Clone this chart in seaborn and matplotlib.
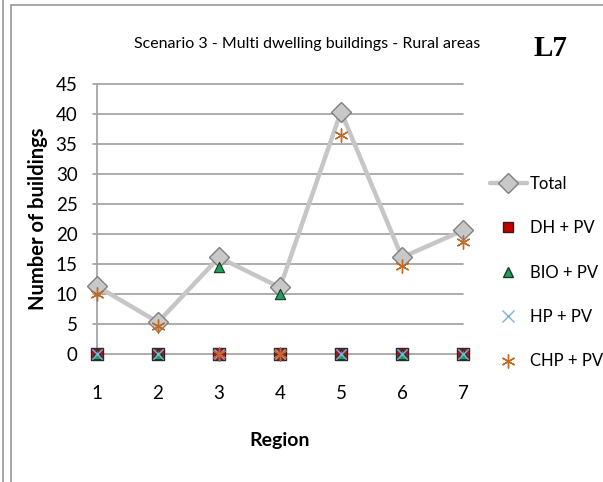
import matplotlib
matplotlib.use("Agg")
import matplotlib.pyplot as plt
from matplotlib.lines import Line2D
import seaborn as sns
import pandas as pd

regions = [1, 2, 3, 4, 5, 6, 7]
total = [11.3, 5.3, 16.1, 11.1, 40.4, 16.1, 20.6]
dh_pv = [0, 0, 0, 0, 0, 0, 0]
bio_pv = [0, 0, 14.5, 10.0, 0, 0, 0]
hp_pv = [0, 0, 0, 0, 0, 0, 0]
chp_pv = [10.0, 4.7, 0, 0, 36.5, 14.7, 18.7]
y_ticks = [0, 5, 10, 15, 20, 25, 30, 35, 40, 45]

sns.set_theme(style="white")
font = ["Lato", "DejaVu Sans"]
plt.rcParams["font.family"] = font
for k in ["text.color", "axes.labelcolor", "xtick.color", "ytick.color"]:
    plt.rcParams[k] = "black"

df = pd.DataFrame({"Region": regions, "Total": total, "DH + PV": dh_pv,
                   "BIO + PV": bio_pv, "HP + PV": hp_pv, "CHP + PV": chp_pv})

fig = plt.figure(figsize=(6.03, 4.82), dpi=100)
ax = fig.add_axes([97 / 603, 1 - 354 / 482, (463 - 97) / 603, (354 - 84) / 482])

# horizontal gridlines
for t in y_ticks:
    ax.axhline(t, color="#a6a6a6", lw=1.3, zorder=0, xmin=-0.012, clip_on=False)

total_style = dict(color="#c6c6c6", lw=3.2, marker="D", markersize=10,
                   markerfacecolor="#c8c8c8", markeredgecolor="#7f7f7f", markeredgewidth=1.0)
sns.lineplot(data=df, x="Region", y="Total", ax=ax, clip_on=False, zorder=3, **total_style)

series_styles = {
    "DH + PV": dict(marker="s", s=70, color="#b0102a", edgecolor="#2a2a2a", linewidth=1.0),
    "BIO + PV": dict(marker="^", s=55, color="#1aa060", edgecolor="#1a3a1a", linewidth=0.8),
    "HP + PV": dict(marker="x", s=55, color="#7fb0e0", linewidth=1.0),
    "CHP + PV": dict(marker=(6, 2, 0), s=90, color="#c06a28", linewidth=1.0),
}
for name, st in series_styles.items():
    sns.scatterplot(data=df, x="Region", y=name, ax=ax, clip_on=False, zorder=4, **st)

ax.set_xlim(1, 7)
ax.set_ylim(0, 45)
ax.set_yticks(y_ticks)
ax.set_xticks(regions)
ax.set_yticklabels([str(t) for t in y_ticks], fontsize=13.5)
ax.set_xticklabels([str(r) for r in regions], fontsize=13.5)
ax.tick_params(axis="y", length=0, pad=14)
ax.tick_params(axis="x", length=0, pad=22)
for s in ["top", "right", "bottom"]:
    ax.spines[s].set_visible(False)
ax.spines["left"].set_color("#a6a6a6")
ax.spines["left"].set_linewidth(1.3)
ax.spines["left"].set_zorder(1)

ax.set_xlabel("Region", fontsize=14, fontweight="bold", labelpad=22)
ax.set_ylabel("Number of buildings", fontsize=14.5, fontweight="bold")
ax.yaxis.set_label_coords(-0.135, 0.5)

fig.text(307 / 603, 1 - 44 / 482, "Scenario 3 - Multi dwelling buildings - Rural areas",
         ha="center", va="center", fontsize=11.5)
fig.text(550 / 603, 1 - 48 / 482, "L7", ha="center", va="center", fontsize=21,
         fontweight="bold", family=["Liberation Serif", "DejaVu Serif"])

handles = [
    Line2D([], [], **total_style),
    Line2D([], [], ls="none", marker="s", markersize=7, markerfacecolor="#c00000", markeredgecolor="#3a1a1a"),
    Line2D([], [], ls="none", marker="^", markersize=7, markerfacecolor="#1aa060", markeredgecolor="#1a3a1a"),
    Line2D([], [], ls="none", marker="x", markersize=8, color="#7fb0e0"),
    Line2D([], [], ls="none", marker=(6, 2, 0), markersize=10, color="#c06a28"),
]
labels = ["Total", "DH + PV", "BIO + PV", "HP + PV", "CHP + PV"]
fig.legend(handles, labels, loc="upper left", bbox_to_anchor=(490 / 603, 1 - 176 / 482),
           frameon=False, fontsize=12, labelspacing=1.7, handlelength=2.2, handletextpad=0.2,
           borderaxespad=0, borderpad=0)

# page frame lines
fig.add_artist(Line2D([3 / 603, 3 / 603], [0, 1], color="#9a9a9a", lw=1.2, transform=fig.transFigure))
fig.add_artist(Line2D([11 / 603, 11 / 603], [0, 1 - 5 / 482], color="#9a9a9a", lw=1.2, transform=fig.transFigure))
fig.add_artist(Line2D([11 / 603, 1], [1 - 5 / 482, 1 - 5 / 482], color="#9a9a9a", lw=1.2, transform=fig.transFigure))

fig.savefig("out.png", dpi=100)
